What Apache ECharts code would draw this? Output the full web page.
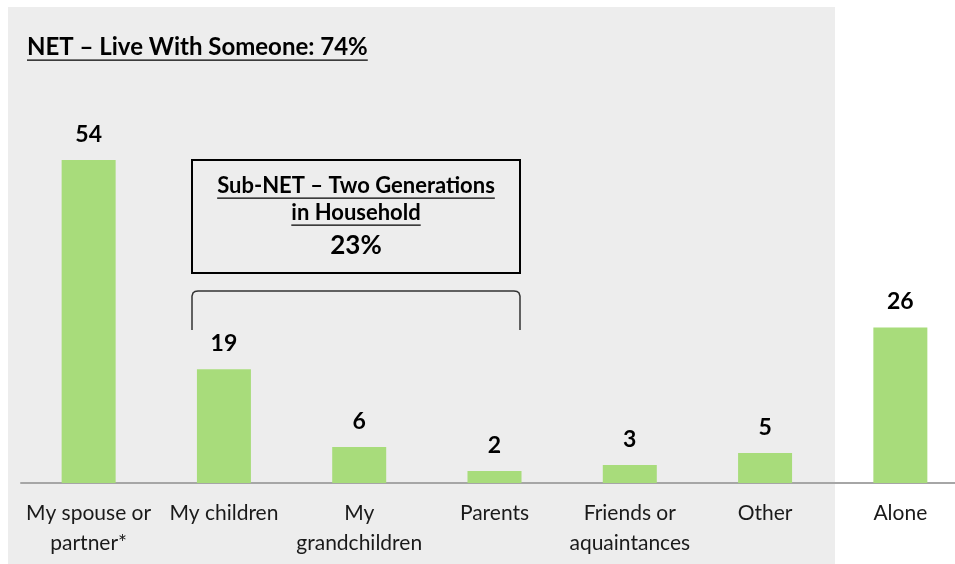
<!DOCTYPE html>
<html>
<head>
<meta charset="utf-8">
<script src="https://cdn.jsdelivr.net/npm/echarts@6/dist/echarts.min.js"></script>
<style>
  html, body { margin: 0; padding: 0; background: #fff; }
  #chart { width: 955px; height: 564px; }
</style>
</head>
<body>
<div id="chart"></div>
<script>
// who respondents live with (%)
const categories = ['My spouse or\npartner*', 'My children', 'My\ngrandchildren', 'Parents', 'Friends or\naquaintances', 'Other', 'Alone']
const values = [54, 19, 6, 2, 3, 5, 26]
const netTitle = 'NET – Live With Someone: 74%'
const subNetLines = ['Sub-NET – Two Generations', 'in Household']
const subNetValue = '23%'

const FONT = 'Lato, "Noto Sans", sans-serif'
const measureCtx = document.createElement('canvas').getContext('2d')
const textWidth = (str, font) => {
  measureCtx.font = font
  return measureCtx.measureText(str).width
}

// text with an underline drawn as a separate line
const underlinedText = (str, x, y, size, align) => {
  const font = `bold ${size}px ${FONT}`
  const w = textWidth(str, font)
  const x0 = align === 'center' ? x - w / 2 : x
  return [
    { type: 'text', x, y, z: 100,
      style: { text: str, font, fill: '#000', align, verticalAlign: 'middle' } },
    { type: 'line', z: 100,
      shape: { x1: x0, y1: y + size * 0.55, x2: x0 + w, y2: y + size * 0.55 },
      style: { stroke: '#000', lineWidth: 1.2 } }
  ]
}

const chart = echarts.init(document.getElementById('chart'))

chart.setOption({
  animation: false,
  grid: { left: 21, top: 124, width: 947, bottom: 81, outerBoundsMode: 'none', containLabel: false },
  xAxis: {
    type: 'category',
    data: categories,
    axisLine: { lineStyle: { color: '#a6a6a6', width: 2 } },
    axisTick: { show: false },
    axisLabel: {
      interval: 0,
      margin: 15,
      color: '#1a1a1a',
      fontFamily: FONT,
      fontSize: 21,
      lineHeight: 30
    }
  },
  yAxis: { type: 'value', min: 0, max: 60, show: false },
  series: [{
    type: 'bar',
    data: values,
    barWidth: 54,
    itemStyle: { color: '#a8dc7b' },
    label: {
      show: true,
      position: 'top',
      distance: 14,
      color: '#000',
      fontFamily: FONT,
      fontWeight: 'bold',
      fontSize: 23
    }
  }],
  graphic: [
    { type: 'rect', z: -1, silent: true,
      shape: { x: 8, y: 7, width: 827, height: 557 },
      style: { fill: '#ededed' } },
    ...underlinedText(netTitle, 27, 47, 24, 'left'),
    { type: 'rect', z: 100,
      shape: { x: 192, y: 160, width: 328, height: 113 },
      style: { fill: 'none', stroke: '#000', lineWidth: 2 } },
    ...underlinedText(subNetLines[0], 356, 186, 22, 'center'),
    ...underlinedText(subNetLines[1], 356, 213, 22, 'center'),
    { type: 'text', x: 356, y: 246, z: 100,
      style: { text: subNetValue, font: `bold 26px ${FONT}`, fill: '#000', align: 'center', verticalAlign: 'middle' } },
    { type: 'polyline', z: 100,
      shape: { points: [[192, 330], [192, 296], [193, 293], [195, 291.5], [198, 291], [514, 291], [517, 291.5], [519, 293], [520, 296], [520, 330]] },
      style: { fill: 'none', stroke: '#333', lineWidth: 1.5 } }
  ]
})
</script>
</body>
</html>
